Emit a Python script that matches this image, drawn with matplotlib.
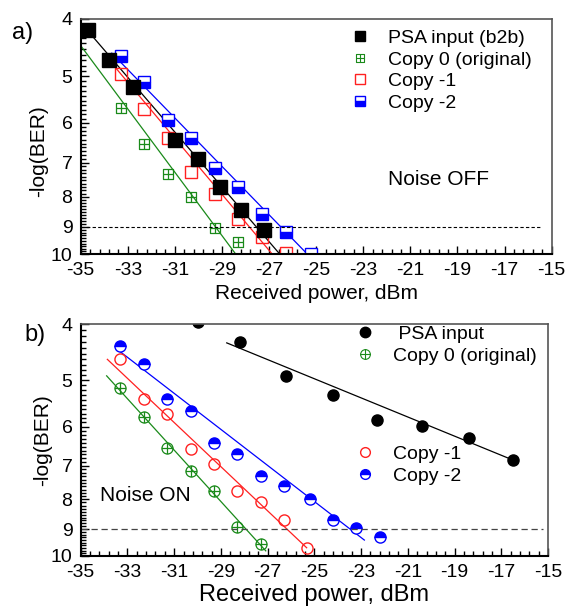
"""
plot.py  -  BER curves, PSA copies, noise OFF / noise ON
"""
import numpy as np
import matplotlib
matplotlib.use("Agg")
import matplotlib.pyplot as plt
from matplotlib.path import Path
from matplotlib.lines import Line2D
from matplotlib.ticker import FixedLocator, NullFormatter, AutoMinorLocator, FuncFormatter

plt.rcParams["font.family"] = ["Liberation Sans", "DejaVu Sans"]
plt.rcParams["axes.unicode_minus"] = False

# --- data: panel a (noise OFF) -------------------------------------------
a_psa_x = [-34.7, -33.8, -32.8, -31.0, -30.0, -29.1, -28.2, -27.2]
a_psa_y = [4.18, 4.70, 5.22, 6.41, 6.91, 7.71, 8.43, 9.09]
a_c0_x = [-33.3, -32.3, -31.3, -30.3, -29.3, -28.3]
a_c0_y = [5.67, 6.52, 7.31, 8.02, 9.04, 9.55]
a_c1_x = [-33.3, -32.3, -31.3, -30.3, -29.3, -28.3, -27.3, -26.3]
a_c1_y = [4.96, 5.68, 6.35, 7.27, 7.90, 8.73, 9.35, 9.97]
a_c2_x = [-33.3, -32.3, -31.3, -30.3, -29.3, -28.3, -27.3, -26.3, -25.2]
a_c2_y = [4.63, 5.12, 5.92, 6.36, 7.16, 7.70, 8.54, 9.19, 9.98]

# fitted lines (end points)
a_fit_psa_x, a_fit_psa_y = [-34.72, -26.55], [4.18, 10.0]
a_fit_c0_x, a_fit_c0_y = [-34.96, -28.42], [4.46, 10.0]
a_fit_c1_x, a_fit_c1_y = [-33.61, -26.87], [4.79, 10.0]
a_fit_c2_x, a_fit_c2_y = [-33.68, -25.38], [4.57, 10.0]

# --- data: panel b (noise ON) --------------------------------------------
b_psa_x = [-30.0, -28.2, -26.2, -24.2, -22.3, -20.4, -18.4, -16.5]
b_psa_y = [3.97, 4.30, 4.92, 5.30, 5.85, 5.99, 6.29, 6.85]
b_c0_x = [-33.3, -32.3, -31.3, -30.3, -29.3, -28.3, -27.3]
b_c0_y = [5.15, 5.77, 6.52, 7.15, 7.74, 8.92, 9.53]
b_c1_x = [-33.3, -32.3, -31.3, -30.3, -29.3, -28.3, -27.3, -26.3, -25.3]
b_c1_y = [4.59, 5.39, 5.72, 6.56, 6.96, 7.73, 8.08, 8.69, 9.69]
b_c2_x = [-33.3, -32.3, -31.3, -30.3, -29.3, -28.3, -27.3, -26.3, -25.2,
          -24.2, -23.2, -22.2]
b_c2_y = [4.37, 4.69, 5.39, 5.65, 6.40, 6.69, 7.29, 7.59, 7.99, 8.69, 8.97, 9.30]

b_fit_psa_x, b_fit_psa_y = [-28.75, -16.5], [4.31, 6.85]
b_fit_c0_x, b_fit_c0_y = [-33.89, -27.08], [4.91, 9.81]
b_fit_c1_x, b_fit_c1_y = [-33.86, -25.33], [4.60, 9.69]
b_fit_c2_x, b_fit_c2_y = [-33.32, -22.86], [4.46, 9.40]

ber_limit = 9
xticks = [-35, -33, -31, -29, -27, -25, -23, -21, -19, -17, -15]
yticks = [4, 5, 6, 7, 8, 9, 10]

GREEN, RED, BLUE = "#1a8a1a", "#ff2020", "#0000ff"

# --- custom markers: square / circle with a cross inside -----------------
M, L = Path.MOVETO, Path.LINETO
cross = Path([(-1, 0), (1, 0), (0, -1), (0, 1)], [M, L, M, L])
sq_cross = Path([(-1, -1), (1, -1), (1, 1), (-1, 1), (-1, -1), (-1, 0), (1, 0), (0, -1), (0, 1)],
                [M, L, L, L, Path.CLOSEPOLY, M, L, M, L])
circ_cross = Path.make_compound_path(Path.unit_circle(), cross)


def style_axes(ax):
    ax.set_xlim(-35, -15)
    ax.set_yscale("log")
    ax.set_ylim(10, 4)
    ax.xaxis.set_major_locator(FixedLocator(xticks))
    ax.xaxis.set_minor_locator(AutoMinorLocator(5))
    ax.yaxis.set_major_locator(FixedLocator(yticks))
    ax.yaxis.set_major_formatter(FuncFormatter(lambda v, p: f"{v:.0f}"))
    ax.yaxis.set_minor_locator(FixedLocator(np.arange(4, 10.001, 0.1)))
    ax.yaxis.set_minor_formatter(NullFormatter())
    ax.tick_params(which="both", direction="in", top=False, right=False,
                   labelsize=14, width=1.0)
    ax.tick_params(which="major", length=6, pad=6)
    ax.tick_params(which="minor", length=3.5)
    for s in ("left", "bottom"):
        ax.spines[s].set_linewidth(1.5)
    for s in ("top", "right"):
        ax.spines[s].set_linewidth(1.2)
        ax.spines[s].set_color("#555555")


fig = plt.figure(figsize=(5.66, 6.08), dpi=100)
ax_a = fig.add_axes([0.1426, 0.5822, 0.8321, 0.3866])
ax_b = fig.add_axes([0.1426, 0.0860, 0.8256, 0.3811])

# --- panel a ---------------------------------------------------------------
style_axes(ax_a)
ax_a.plot(a_fit_psa_x, a_fit_psa_y, color="black", lw=0.9)
ax_a.plot(a_fit_c0_x, a_fit_c0_y, color=GREEN, lw=0.9)
ax_a.plot(a_fit_c1_x, a_fit_c1_y, color=RED, lw=0.9)
ax_a.plot(a_fit_c2_x, a_fit_c2_y, color=BLUE, lw=0.9)
ax_a.plot(a_c0_x, a_c0_y, ls="none", marker=sq_cross, ms=7.5, mfc="none", mec=GREEN, mew=0.9)
ax_a.plot(a_c1_x, a_c1_y, ls="none", marker="s", ms=8, mfc="none", mec=RED, mew=1.0)
ax_a.plot(a_c2_x, a_c2_y, ls="none", marker="s", ms=8, fillstyle="bottom",
          mfc=BLUE, mfcalt="white", mec=BLUE, mew=1.0)
ax_a.plot(a_psa_x, a_psa_y, ls="none", marker="s", ms=9.5, color="black")
ax_a.plot([-35, -15.5], [ber_limit, ber_limit], color="black", lw=0.8, ls=(0, (3, 2)))

handles_a = [
    Line2D([], [], ls="none", marker="s", ms=6.5, color="black"),
    Line2D([], [], ls="none", marker=sq_cross, ms=6, mfc="none", mec=GREEN, mew=0.8),
    Line2D([], [], ls="none", marker="s", ms=6.5, mfc="none", mec=RED, mew=1.0),
    Line2D([], [], ls="none", marker="s", ms=6.5, fillstyle="bottom",
           mfc=BLUE, mfcalt="white", mec=BLUE, mew=1.0),
]
labels_a = ["PSA input (b2b)", "Copy 0 (original)", "Copy -1", "Copy -2"]
ax_a.legend(handles_a, labels_a, loc="upper left", bbox_to_anchor=(0.572, 0.955),
            frameon=False, fontsize=14, handlelength=1.0, handletextpad=0.95,
            labelspacing=0.2, borderpad=0, borderaxespad=0)
ax_a.text(0.652, 0.315, "Noise OFF", transform=ax_a.transAxes, fontsize=15, va="center")
ax_a.set_xlabel("Received power, dBm", fontsize=15, labelpad=3)
ax_a.set_ylabel("-log(BER)", fontsize=15)
ax_a.yaxis.set_label_coords(-0.069, 0.438)
fig.text(0.022, 0.946, "a)", fontsize=17, va="center")

# --- panel b ---------------------------------------------------------------
style_axes(ax_b)
ax_b.plot(b_fit_psa_x, b_fit_psa_y, color="black", lw=0.9)
ax_b.plot(b_fit_c0_x, b_fit_c0_y, color=GREEN, lw=0.9)
ax_b.plot(b_fit_c1_x, b_fit_c1_y, color=RED, lw=0.9)
ax_b.plot(b_fit_c2_x, b_fit_c2_y, color=BLUE, lw=0.9)
ax_b.plot(b_psa_x, b_psa_y, ls="none", marker="o", ms=8, color="black")
ax_b.plot(b_c0_x, b_c0_y, ls="none", marker=circ_cross, ms=8, mfc="none", mec=GREEN, mew=0.9)
ax_b.plot(b_c1_x, b_c1_y, ls="none", marker="o", ms=8, mfc="none", mec=RED, mew=1.0)
ax_b.plot(b_c2_x, b_c2_y, ls="none", marker="o", ms=8, fillstyle="top",
          mfc=BLUE, mfcalt="white", mec=BLUE, mew=1.0)
ax_b.plot([-35, -15.2], [ber_limit, ber_limit], color="#444444", lw=0.9, ls=(0, (5, 3)))

handles_b1 = [
    Line2D([], [], ls="none", marker="o", ms=7.5, color="black"),
    Line2D([], [], ls="none", marker=circ_cross, ms=7, mfc="none", mec=GREEN, mew=0.8),
]
handles_b2 = [
    Line2D([], [], ls="none", marker="o", ms=7, mfc="none", mec=RED, mew=1.0),
    Line2D([], [], ls="none", marker="o", ms=7, fillstyle="top",
           mfc=BLUE, mfcalt="white", mec=BLUE, mew=1.0),
]
leg_kw = dict(loc="upper left", frameon=False, fontsize=14, handlelength=1.0,
              handletextpad=0.95, labelspacing=0.25, borderpad=0, borderaxespad=0)
leg1 = ax_b.legend(handles_b1, [" PSA input", "Copy 0 (original)"],
                   bbox_to_anchor=(0.588, 0.995), **leg_kw)
ax_b.add_artist(leg1)
ax_b.legend(handles_b2, ["Copy -1", "Copy -2"], bbox_to_anchor=(0.588, 0.478), **leg_kw)
ax_b.text(0.041, 0.262, "Noise ON", transform=ax_b.transAxes, fontsize=15, va="center")
ax_b.set_xlabel("Received power, dBm", fontsize=17, labelpad=2)
ax_b.set_ylabel("-log(BER)", fontsize=15)
ax_b.yaxis.set_label_coords(-0.062, 0.5)
fig.text(0.044, 0.449, "b)", fontsize=17, va="center")

fig.savefig("out.png", dpi=100)
